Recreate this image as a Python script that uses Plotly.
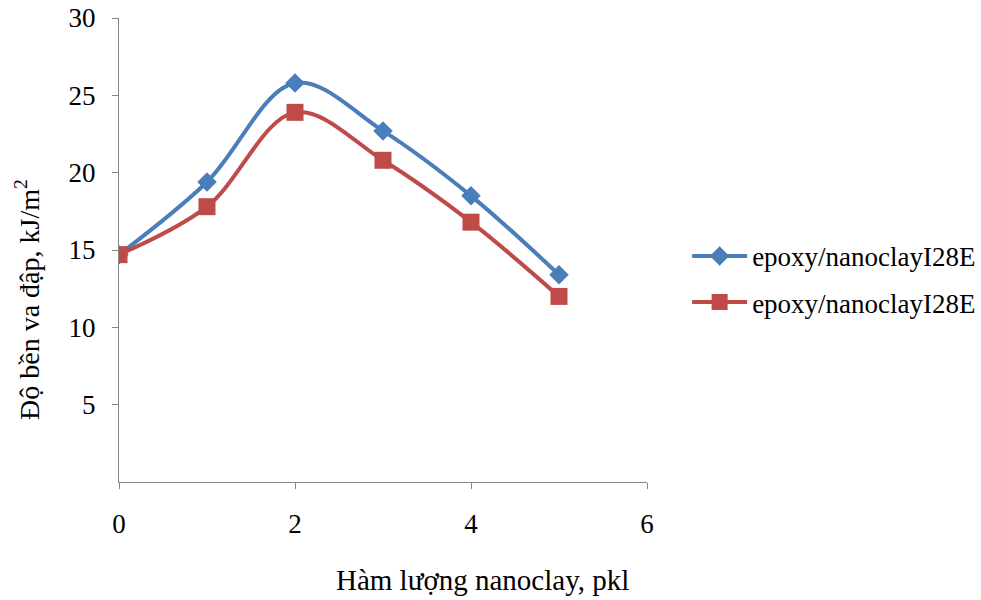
import plotly.graph_objects as go

x_vals = [0, 1, 2, 3, 4, 5]
series1_name = "epoxy/nanoclayI28E"
series1_vals = [14.7, 19.4, 25.8, 22.7, 18.5, 13.4]
series2_name = "epoxy/nanoclayI28E"
series2_vals = [14.7, 17.8, 23.9, 20.8, 16.8, 12.0]
x_ticks = [0, 2, 4, 6]
y_ticks = [5, 10, 15, 20, 25, 30]

font_family = '"Liberation Serif", "Times New Roman", serif'

fig = go.Figure()
fig.add_trace(go.Scatter(
    x=x_vals, y=series1_vals, name=series1_name, mode="lines+markers",
    line=dict(color="#4A7EBB", width=4, shape="spline", smoothing=1),
    marker=dict(symbol="diamond", size=15, color="#4A7EBB"),
    legendgroup="a",
))
fig.add_trace(go.Scatter(
    x=x_vals, y=series2_vals, name=series2_name, mode="lines+markers",
    line=dict(color="#BE4B48", width=4, shape="spline", smoothing=1),
    marker=dict(symbol="square", size=17, color="#BE4B48"),
    legendgroup="b",
))

fig.update_layout(
    width=981, height=600,
    margin=dict(l=119, r=334, t=18, b=118, autoexpand=False),
    paper_bgcolor="white", plot_bgcolor="white",
    font=dict(family=font_family, size=27, color="black"),
    showlegend=True,
    legend=dict(x=1.076, y=0.539, xanchor="left", yanchor="top",
                font=dict(size=27, family=font_family, color="black"),
                traceorder="grouped", tracegroupgap=8, itemwidth=55,
                bgcolor="rgba(0,0,0,0)"),
    xaxis=dict(range=[0, 6], tickvals=x_ticks, showgrid=False, zeroline=False,
               showline=True, linecolor="#868686", linewidth=1,
               ticks="outside", tickcolor="#868686", ticklen=6,
               ticklabelstandoff=12, automargin=False,
               tickfont=dict(size=27, family=font_family, color="black")),
    yaxis=dict(range=[0, 30], tickvals=y_ticks, showgrid=False, zeroline=False,
               showline=True, linecolor="#868686", linewidth=1,
               ticks="outside", tickcolor="#868686", ticklen=6,
               ticklabelstandoff=11, automargin=False,
               tickfont=dict(size=27, family=font_family, color="black")),
    annotations=[
        dict(text="Hàm lượng nanoclay, pkl", xref="paper", yref="paper",
             x=(482 - 119) / 528, y=-(580 - 482) / 464, xanchor="center", yanchor="middle",
             showarrow=False, font=dict(size=29, family=font_family, color="black")),
        dict(text="Độ bền va đập, kJ/m<sup>2</sup>", xref="paper", yref="paper",
             x=-(119 - 27) / 528, y=(482 - 300) / 464, xanchor="center", yanchor="middle",
             textangle=-90, showarrow=False, font=dict(size=28, family=font_family, color="black")),
    ],
)

fig.write_html("out.html")
